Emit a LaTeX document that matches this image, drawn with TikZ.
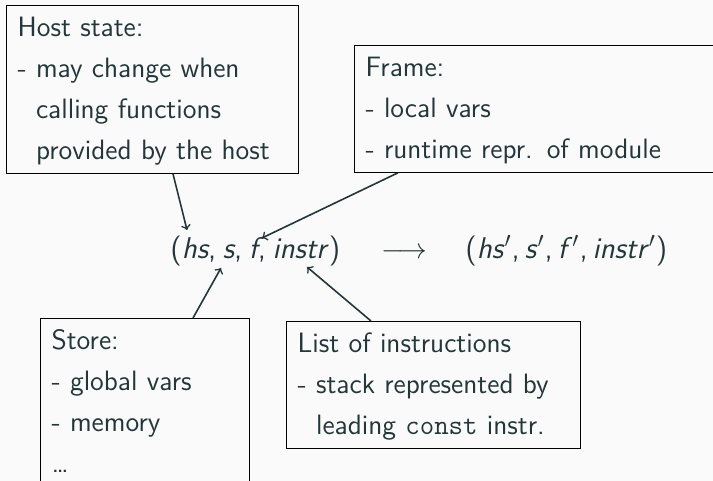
\documentclass[tikz,border=0pt]{standalone}
\usepackage{fontspec}
\usetikzlibrary{calc}
\definecolor{fg}{HTML}{23373B}
\definecolor{bg}{HTML}{FAFAFA}
\renewcommand{\familydefault}{\sfdefault}
\begin{document}
\begin{tikzpicture}[x=0.5pt,y=-0.5pt,
  box/.style={draw=black, line width=0.6pt, anchor=north west, align=left,
    inner xsep=5.5pt, inner ysep=0.9pt, text=fg,
    font=\fontsize{14}{20.5}\selectfont,
    execute at begin node=\setlength{\parindent}{0pt}},
  conn/.style={->, draw=fg, line width=0.8pt},
  tuple/.style={inner sep=0pt, anchor=base west, text=fg,
    font=\fontsize{15}{20.5}\selectfont}]
\useasboundingbox (0,0) rectangle (713,481);
\fill[bg] (0,0) rectangle (713,481);
\clip (0,0) rectangle (713,481);

\node[box, text width=135pt] (host) at (6,5)
  {\strut Host state:\\
   \strut- may change when\\
   \strut\hphantom{- }calling functions\\
   \strut\hphantom{- }provided by the host};

\node[box, text width=190pt] (frame) at (354,45)
  {\strut Frame:\\
   \strut- local vars\\
   \strut- runtime repr. of module};

\node[box, text width=93.5pt] (store) at (40,318)
  {\strut Store:\\
   \strut- global vars\\
   \strut- memory\\
   \strut\dots};

\node[box, text width=136pt] (list) at (286,321)
  {\strut List of instructions\\
   \strut- stack represented by\\
   \strut\hphantom{- }leading \texttt{const} instr.};

\node[tuple] (t1) at (170,258)
  {(\textit{hs},\hspace{0.22em}\textit{s},\hspace{0.22em}\textit{f},\hspace{0.22em}\textit{instr})};
\node[tuple, font=\fontsize{14}{20.5}\selectfont] (arr) at (381,258) {$\longrightarrow$};
\node[tuple] (t2) at (465,258)
  {(\textit{hs}$'$,\,\textit{s}$'$,\,\textit{f}$'$,\,\textit{instr}$'$)};

\coordinate (hx) at (173,0);
\coordinate (fx) at (398,0);
\coordinate (sx) at (193,0);
\coordinate (lx) at (371,0);
\coordinate (hend) at (187,230);
\coordinate (fend) at (262,238);
\coordinate (send) at (221,268);
\coordinate (lend) at (307,267);

\draw[conn] (host.south -| hx) -- (hend);
\draw[conn] (frame.south -| fx) -- (fend);
\draw[conn] (store.north -| sx) -- (send);
\draw[conn] (list.north -| lx) -- (lend);
\end{tikzpicture}
\end{document}
